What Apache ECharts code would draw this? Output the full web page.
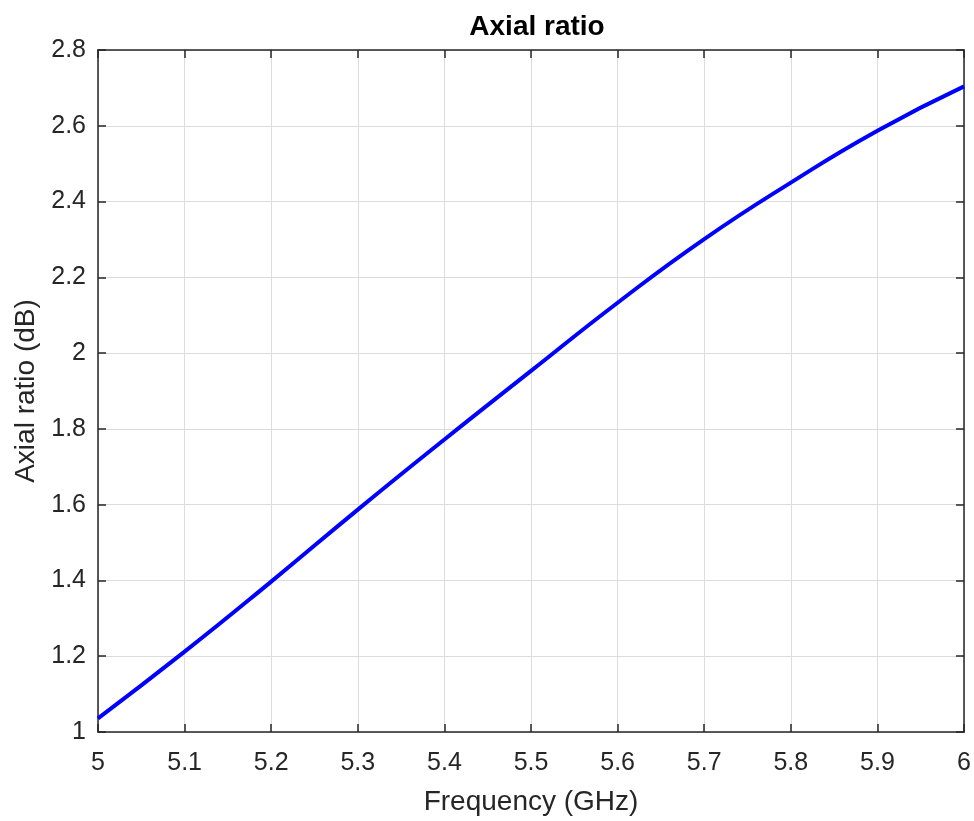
<!DOCTYPE html>
<html>
<head>
<meta charset="utf-8">
<script src="https://cdn.jsdelivr.net/npm/echarts@6/dist/echarts.min.js"></script>
<style>
html,body{margin:0;padding:0;background:#fff;}
#chart{width:974px;height:821px;}
</style>
</head>
<body>
<div id="chart"></div>
<script>
var frequency = [5.0, 5.1, 5.2, 5.3, 5.4, 5.5, 5.6, 5.7, 5.8, 5.9, 6.0];
var axialRatio = [1.036, 1.212, 1.397, 1.587, 1.772, 1.953, 2.133, 2.301, 2.450, 2.587, 2.704];
var xTickLabels = ['5', '5.1', '5.2', '5.3', '5.4', '5.5', '5.6', '5.7', '5.8', '5.9', '6'];
var yTickLabels = ['1', '1.2', '1.4', '1.6', '1.8', '2', '2.2', '2.4', '2.6', '2.8'];
var titleText = 'Axial ratio';
var xName = 'Frequency (GHz)';
var yName = 'Axial ratio (dB)';

var data = frequency.map(function (f, i) { return [f, axialRatio[i]]; });
var FONT = '"Liberation Sans", Arial, Helvetica, sans-serif';
var AX = '#262626';

function labelFrom(arr, min, step) {
  return function (v) {
    var idx = Math.round((v - min) / step);
    return arr[idx] !== undefined ? arr[idx] : '';
  };
}

var chart = echarts.init(document.getElementById('chart'), null, {renderer: 'canvas'});
var baseX = {
  type: 'value', min: 5, max: 6, interval: 0.1,
  axisLine: {show: true, onZero: false, lineStyle: {color: AX, width: 1.5}},
  axisTick: {show: true, inside: true, length: 8, lineStyle: {color: AX, width: 1.5}},
  splitLine: {show: false}
};
var baseY = {
  type: 'value', min: 1, max: 2.8, interval: 0.2,
  axisLine: {show: true, onZero: false, lineStyle: {color: AX, width: 1.5}},
  axisTick: {show: true, inside: true, length: 8, lineStyle: {color: AX, width: 1.5}},
  splitLine: {show: false}
};
chart.setOption({
  animation: false,
  backgroundColor: '#ffffff',
  title: {
    text: titleText, left: 532, textAlign: 'center', top: 8,
    textStyle: {fontFamily: FONT, fontSize: 28, fontWeight: 'bold', color: '#000'}
  },
  grid: {left: 98, right: 8, top: 50, bottom: 87, containLabel: false},
  xAxis: [
    Object.assign({}, baseX, {
      position: 'bottom',
      name: xName, nameLocation: 'middle', nameGap: 56,
      nameTextStyle: {fontFamily: FONT, fontSize: 28, color: AX},
      axisLabel: {show: true, margin: 19, fontFamily: FONT, fontSize: 25, color: AX,
        formatter: labelFrom(xTickLabels, 5, 0.1)},
      splitLine: {show: true, lineStyle: {color: '#dcdcdc', width: 1}}
    }),
    Object.assign({}, baseX, {position: 'top', axisLabel: {show: false}})
  ],
  yAxis: [
    Object.assign({}, baseY, {
      position: 'left',
      name: yName, nameLocation: 'middle', nameGap: 54, nameRotate: 90,
      nameTextStyle: {fontFamily: FONT, fontSize: 28, color: AX},
      axisLabel: {show: true, margin: 12, fontFamily: FONT, fontSize: 25, color: AX,
        formatter: labelFrom(yTickLabels, 1, 0.2)},
      splitLine: {show: true, lineStyle: {color: '#dcdcdc', width: 1}}
    }),
    Object.assign({}, baseY, {position: 'right', axisLabel: {show: false}})
  ],
  series: [{
    type: 'line', data: data, smooth: 0.5, showSymbol: false,
    xAxisIndex: 0, yAxisIndex: 0,
    lineStyle: {color: '#0000ff', width: 4},
    z: 5
  }]
});
</script>
</body>
</html>
